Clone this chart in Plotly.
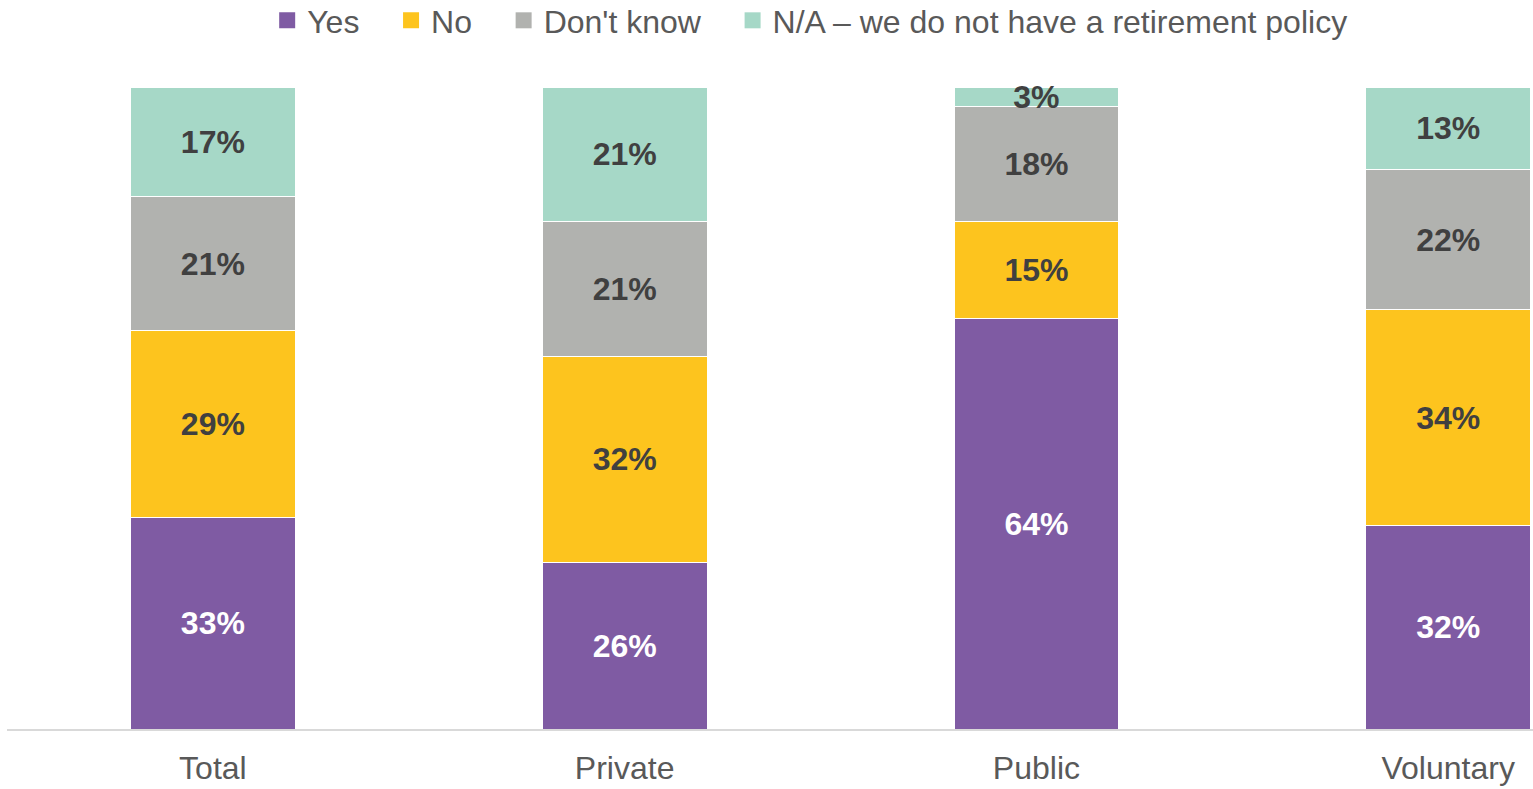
import plotly.graph_objects as go

categories = ["Total", "Private", "Public", "Voluntary"]
series_names = ["Yes", "No", "Don't know", "N/A \u2013 we do not have a retirement policy"]
yes_vals = [33, 26, 64, 32]
no_vals = [29, 32, 15, 34]
dont_know_vals = [21, 21, 18, 22]
na_vals = [17, 21, 3, 13]

colors = ["#7F5BA3", "#FDC41E", "#B1B2AF", "#A6D8C7"]
text_colors = ["#FFFFFF", "#404040", "#404040", "#404040"]

FONT = "Arial, Liberation Sans, sans-serif"
GAP = "\u00a0\u00a0\u00a0"  # extra spacing after each legend label

fig = go.Figure()
for name, vals, col, tcol in zip(series_names,
                                 [yes_vals, no_vals, dont_know_vals, na_vals],
                                 colors, text_colors):
    fig.add_trace(go.Bar(
        x=list(range(len(categories))),
        y=vals,
        name=name,
        width=0.4,
        marker=dict(color=col, line=dict(color="#FFFFFF", width=1)),
        text=[f"{v}%" for v in vals],
        textposition="inside",
        insidetextanchor="middle",
        constraintext="none",
        textangle=0,
        textfont=dict(family=FONT, size=32, color=tcol, weight="bold"),
        cliponaxis=False,
        hoverinfo="skip",
        showlegend=False,
        legendgroup=name,
    ))

# legend entries with larger square swatches
for i, (name, col) in enumerate(zip(series_names, colors)):
    fig.add_trace(go.Scatter(
        x=[None], y=[None],
        mode="markers",
        name=name + (GAP if i < len(series_names) - 1 else ""),
        legendgroup=name,
        marker=dict(symbol="square", size=16, color=col),
        hoverinfo="skip",
    ))

fig.update_layout(
    barmode="stack",
    barnorm="percent",
    width=1533,
    height=789,
    margin=dict(l=7, r=0, t=87, b=60, autoexpand=False),
    paper_bgcolor="#FFFFFF",
    plot_bgcolor="#FFFFFF",
    font=dict(family=FONT, color="#595959"),
    legend=dict(
        orientation="h",
        x=0.526, xanchor="center",
        y=0.974, yref="container", yanchor="middle",
        font=dict(family=FONT, size=32, color="#595959"),
        traceorder="normal",
        itemwidth=30,
        itemsizing="trace",
    ),
    xaxis=dict(
        tickmode="array",
        tickvals=list(range(len(categories))),
        ticktext=categories,
        range=[-0.5, 3.206],
        showline=True,
        linecolor="#D9D9D9",
        linewidth=2,
        showgrid=False,
        zeroline=False,
        tickfont=dict(family=FONT, size=32, color="#595959"),
        ticklabelstandoff=10,
        fixedrange=True,
    ),
    yaxis=dict(
        range=[0, 100],
        showticklabels=False,
        showgrid=False,
        zeroline=False,
        showline=False,
        fixedrange=True,
    ),
)

fig.write_html("out.html")
